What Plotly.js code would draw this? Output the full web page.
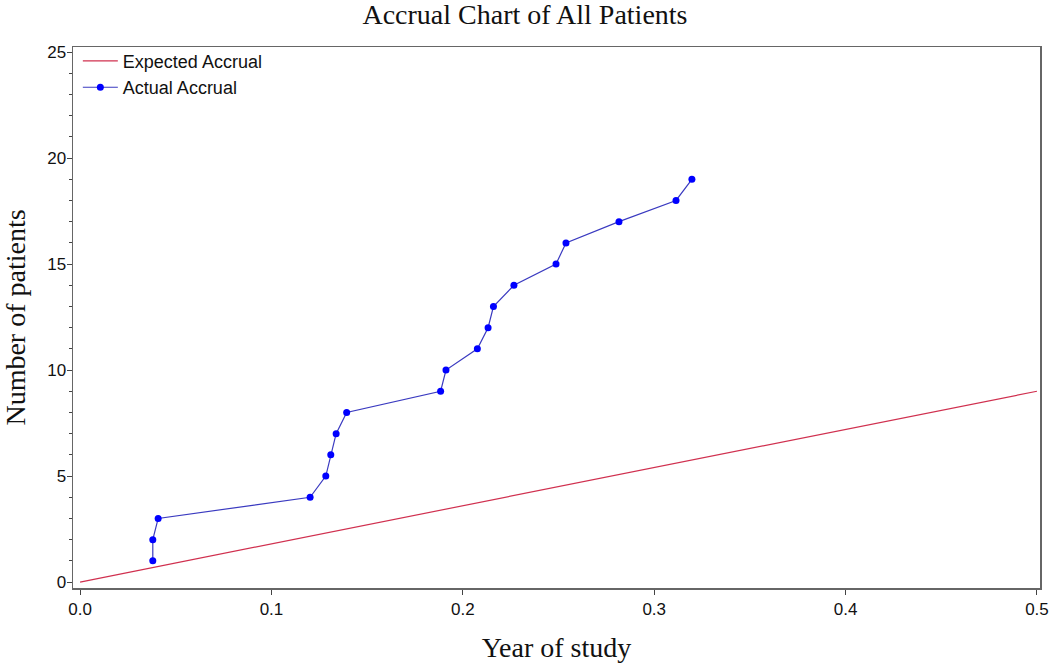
<!DOCTYPE html>
<html>
<head>
<meta charset="utf-8">
<script src="https://cdn.plot.ly/plotly-3.0.1.min.js"></script>
<style>html,body{margin:0;padding:0;background:#fff;}#chart{width:1050px;height:663px;}</style>
</head>
<body>
<div id="chart"></div>
<script>
// Actual accrual (year of study, cumulative patients)
const actualYears = [0.038, 0.038, 0.0408, 0.1202, 0.1284, 0.131, 0.1338, 0.1393, 0.1884, 0.1912, 0.2076, 0.2132, 0.216, 0.2267, 0.2487, 0.2539, 0.2816, 0.3114, 0.3197];
const actualPatients = [1, 2, 3, 4, 5, 6, 7, 8, 9, 10, 11, 12, 13, 14, 15, 16, 17, 18, 19];
// Expected accrual line
const expectedYears = [0, 0.5];
const expectedPatients = [0, 9];
const xTickVals = [0, 0.1, 0.2, 0.3, 0.4, 0.5];
const xTickText = ['0.0', '0.1', '0.2', '0.3', '0.4', '0.5'];
const yTickVals = [0, 5, 10, 15, 20, 25];

const sans = '"Liberation Sans", Arial, sans-serif';
const serif = '"Liberation Serif", "Times New Roman", serif';

const traces = [
  {
    x: expectedYears, y: expectedPatients, mode: 'lines', name: 'Expected Accrual',
    line: {color: '#d0304f', width: 1.2}
  },
  {
    x: actualYears, y: actualPatients, mode: 'lines+markers', name: 'Actual Accrual',
    line: {color: '#3a3ac0', width: 1.2},
    marker: {color: '#0000ff', size: 7}
  }
];

const layout = {
  width: 1050, height: 663,
  margin: {l: 73, r: 10, t: 47, b: 75},
  paper_bgcolor: '#fff', plot_bgcolor: '#fff',
  title: {text: 'Accrual Chart of All Patients', font: {family: serif, size: 28, color: '#111'}, x: 0.5, xanchor: 'center', xref: 'container', y: 0.979, yanchor: 'middle'},
  showlegend: true,
  legend: {x: 0.005, y: 1.008, xanchor: 'left', yanchor: 'top', bgcolor: 'rgba(0,0,0,0)', font: {family: sans, size: 18, color: '#111'}, itemwidth: 35, tracegroupgap: 0},
  xaxis: {
    range: [-0.0037, 0.5016], tickvals: xTickVals, ticktext: xTickText,
    showgrid: false, zeroline: false, showline: true, mirror: true, linecolor: '#666', linewidth: 1.5,
    ticks: 'outside', ticklen: 5, tickcolor: '#444', ticklabelstandoff: 0,
    tickfont: {family: sans, size: 17, color: '#111'},
    title: {text: 'Year of study', font: {family: serif, size: 28, color: '#111'}, standoff: 20}
  },
  yaxis: {
    range: [-0.28, 25.24], tickvals: yTickVals,
    showgrid: false, zeroline: false, showline: true, mirror: true, linecolor: '#666', linewidth: 1.5,
    ticks: 'outside', ticklen: 5, tickcolor: '#444', ticklabelstandoff: -3,
    minor: {dtick: 1, ticks: 'outside', ticklen: 3, tickcolor: '#444', showgrid: false},
    tickfont: {family: sans, size: 17, color: '#111'},
    title: {text: 'Number of patients', font: {family: serif, size: 28, color: '#111'}, standoff: 17}
  }
};

Plotly.newPlot('chart', traces, layout, {displayModeBar: false, staticPlot: true});
</script>
</body>
</html>
